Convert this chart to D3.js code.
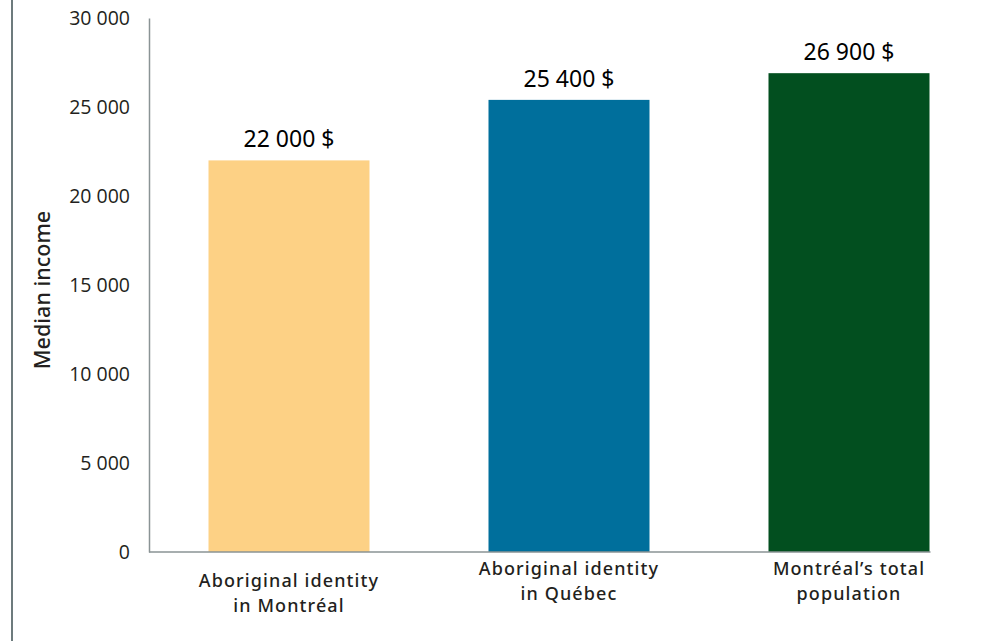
<!DOCTYPE html>
<html>
<head>
<meta charset="utf-8">
<script src="https://cdn.jsdelivr.net/npm/d3@7"></script>
<style>
  body { margin: 0; background: #fff; }
</style>
</head>
<body>
<div id="chart"></div>
<script>
var categories = [["Aboriginal identity", "in Montréal"], ["Aboriginal identity", "in Québec"], ["Montréal’s total", "population"]];
var values = [22000, 25400, 26900];
var colors = ["#fdd185", "#006f9c", "#024f1f"];
var yTicks = [0, 5000, 10000, 15000, 20000, 25000, 30000];
var labelShift = [12, 0, 0];

var width = 1005, height = 641;

var svg = d3.select("#chart").append("svg")
  .attr("width", width)
  .attr("height", height);

// left frame line
svg.append("line")
  .attr("x1", 12).attr("x2", 12)
  .attr("y1", 0).attr("y2", height)
  .attr("stroke", "#6d7b7d")
  .attr("stroke-width", 2);

var x = d3.scaleBand()
  .domain(d3.range(values.length))
  .range([149, 989])
  .paddingInner(0.425)
  .paddingOuter(0.2125);

var y = d3.scaleLinear()
  .domain([0, 30000])
  .range([552, 18]);

var fmt = function(v){ return d3.format(",")(v).replace(/,/g, " "); };

// bars
svg.selectAll("rect.bar")
  .data(values)
  .enter()
  .append("rect")
  .attr("class", "bar")
  .attr("x", function(d, i){ return x(i); })
  .attr("y", function(d){ return y(d); })
  .attr("width", x.bandwidth())
  .attr("height", function(d){ return y(0) - y(d); })
  .attr("fill", function(d, i){ return colors[i]; });

// y axis
var yAxis = svg.append("g")
  .attr("transform", "translate(149,0)")
  .call(d3.axisLeft(y).tickValues(yTicks).tickSize(0).tickPadding(19).tickFormat(fmt));
yAxis.attr("font-size", null).attr("font-family", null);
yAxis.select(".domain").attr("stroke", "#8a9395").attr("stroke-width", 1.5);
yAxis.selectAll("text")
  .style("font-family", "'Open Sans', sans-serif")
  .style("font-size", "19.5px")
  .attr("fill", "#231f20");

// baseline
svg.append("line")
  .attr("x1", 149).attr("x2", x(values.length - 1) + x.bandwidth() + 1)
  .attr("y1", y(0)).attr("y2", y(0))
  .attr("stroke", "#8a9395")
  .attr("stroke-width", 1.5);

// value labels
svg.selectAll("text.val")
  .data(values)
  .enter()
  .append("text")
  .attr("class", "val")
  .attr("x", function(d, i){ return x(i) + x.bandwidth() / 2; })
  .attr("y", function(d){ return y(d) - 13; })
  .attr("text-anchor", "middle")
  .style("font-family", "'Noto Sans', sans-serif")
  .style("font-size", "23px")
  .attr("fill", "#000")
  .text(function(d){ return fmt(d) + " $"; });

// category labels
var cat = svg.selectAll("text.cat")
  .data(categories)
  .enter()
  .append("text")
  .attr("class", "cat")
  .attr("text-anchor", "middle")
  .style("font-family", "'Noto Sans', sans-serif")
  .style("font-size", "18px")
  .style("font-weight", 500)
  .style("letter-spacing", "1.1px")
  .attr("fill", "#231f20");
cat.each(function(d, i){
  var t = d3.select(this);
  d.forEach(function(line, j){
    t.append("tspan")
      .attr("x", x(i) + x.bandwidth() / 2)
      .attr("y", y(0) + 23 + labelShift[i] + j * 25)
      .text(line);
  });
});

// y title
svg.append("text")
  .attr("transform", "translate(50,290) rotate(-90)")
  .attr("text-anchor", "middle")
  .style("font-family", "'Noto Sans', sans-serif")
  .style("font-size", "21.5px")
  .style("font-weight", 500)
  .attr("fill", "#231f20")
  .text("Median income");
</script>
</body>
</html>
